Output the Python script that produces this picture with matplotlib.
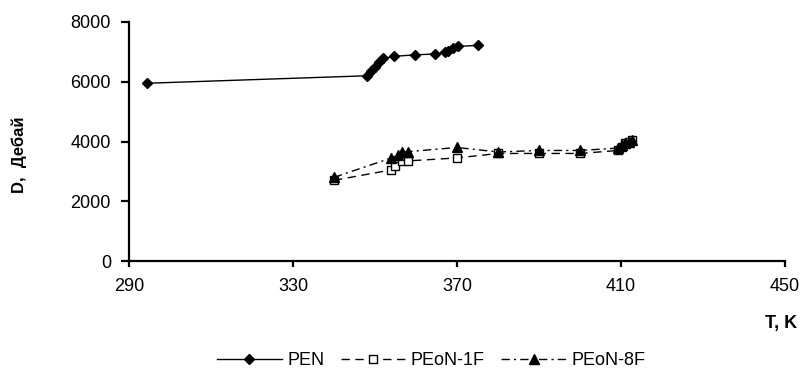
import numpy as np
import matplotlib
matplotlib.use("Agg")
import matplotlib.pyplot as plt

plt.rcParams['font.family'] = ['Liberation Sans', 'DejaVu Sans']

# données
T_pen = [294.5, 348, 349, 350, 351, 352, 354.6, 359.8, 364.6, 367.1, 367.8, 369.0, 370.2, 375.1]
D_pen = [5950, 6200, 6350, 6500, 6650, 6780, 6850, 6900, 6930, 6980, 7020, 7130, 7180, 7220]

T_1f = [340, 354, 355, 356.5, 358, 370, 380, 390, 400, 409.3, 410.2, 411, 412, 412.7]
D_1f = [2700, 3050, 3170, 3350, 3350, 3450, 3600, 3600, 3600, 3700, 3800, 3950, 4000, 4050]

T_8f = [340, 354, 355.5, 356.5, 358, 370, 380, 390, 400, 409.3, 410.2, 411, 412, 412.7]
D_8f = [2800, 3450, 3550, 3640, 3660, 3800, 3650, 3700, 3700, 3780, 3880, 3950, 4000, 4050]

x_ticks = [290, 330, 370, 410, 450]
y_ticks = [0, 2000, 4000, 6000, 8000]

fig = plt.figure(figsize=(8.03, 3.74), dpi=100)
ax = fig.add_axes([0.1606, 0.3021, 0.817, 0.6391])

ax.plot(T_pen, D_pen, "-", color="black", lw=1, marker="D", ms=5.5,
        mfc="black", mec="black", label="PEN")
ax.plot(T_1f, D_1f, color="black", lw=1, dashes=(6, 4), marker="s", ms=6,
        mfc="white", mec="black", mew=1, label="PEoN-1F")
ax.plot(T_8f, D_8f, color="black", lw=1, dashes=(6, 3, 1.5, 3), marker="^", ms=6.5,
        mfc="black", mec="black", label="PEoN-8F")

ax.set_xlim(290, 450)
ax.set_ylim(0, 8000)
ax.set_xticks(x_ticks)
ax.set_yticks(y_ticks)

for s in ["top", "right"]:
    ax.spines[s].set_visible(False)
for s in ["left", "bottom"]:
    ax.spines[s].set_linewidth(1.6)

ax.tick_params(axis="y", direction="out", length=6, width=1.6, labelsize=13, pad=7)
ax.tick_params(axis="x", direction="out", length=4, width=1.6, labelsize=13, pad=8)

fig.text(0.024, 0.585, "D,  Дебай", rotation=90, ha="center", va="center",
         fontsize=12, fontweight="bold")
fig.text(0.993, 0.134, "T, K", ha="right", va="center", fontsize=13, fontweight="bold")

fig.legend(loc="center", bbox_to_anchor=(0.537, 0.036), ncol=3, frameon=False,
           fontsize=13, handlelength=3.6, handletextpad=0.3, columnspacing=0.9,
           borderaxespad=0)

fig.savefig("out.png", dpi=100)
